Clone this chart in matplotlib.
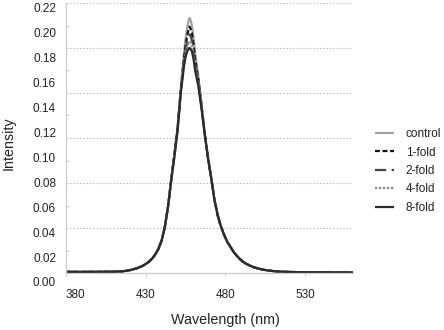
import numpy as np
import matplotlib.pyplot as plt
from matplotlib.ticker import MultipleLocator

plt.rcParams['font.family'] = ['Liberation Sans', 'DejaVu Sans']

# ------------------------------------------------------------
# Emission spectra (intensity vs wavelength)
# the tails of all five spectra coincide, only the peak differs
# ------------------------------------------------------------
wl_left = [380, 395, 405, 410, 415, 418, 420, 422, 425, 428, 430, 432, 434, 436, 438,
           440, 442, 444]
wl_peak = [446, 448, 450, 452, 454, 455, 456, 457, 457.5, 458, 459, 460, 461, 463, 465,
           467, 469]
wl_right = [471, 473, 475, 477, 479, 481, 483, 485, 487, 489, 491, 493, 495, 498, 501,
            505, 510, 515, 520, 530, 545, 560]

tail_left = [0.0010, 0.0010, 0.0011, 0.0012, 0.0015, 0.0020, 0.0025, 0.0032, 0.0045,
             0.0063, 0.0080, 0.0100, 0.0128, 0.0165, 0.0215, 0.0290, 0.0410, 0.0590]
tail_right = [0.0850, 0.0660, 0.0520, 0.0420, 0.0345, 0.0280, 0.0235, 0.0190, 0.0155,
              0.0125, 0.0100, 0.0082, 0.0068, 0.0050, 0.0038, 0.0026, 0.0017, 0.0012,
              0.0009, 0.0007, 0.0006, 0.0005]

peak_control = [0.0830, 0.1060, 0.1300, 0.1650, 0.1950, 0.2080, 0.2180, 0.2250, 0.2267,
                0.2255, 0.2200, 0.2090, 0.1950, 0.1750, 0.1500, 0.1250, 0.1040]
peak_1fold = [0.0830, 0.1055, 0.1290, 0.1630, 0.1910, 0.2025, 0.2110, 0.2170, 0.2190,
              0.2175, 0.2130, 0.2030, 0.1900, 0.1720, 0.1490, 0.1245, 0.1035]
peak_2fold = [0.0828, 0.1050, 0.1280, 0.1620, 0.1880, 0.1985, 0.2050, 0.2105, 0.2120,
              0.2110, 0.2070, 0.1980, 0.1860, 0.1700, 0.1480, 0.1240, 0.1030]
peak_4fold = [0.0826, 0.1040, 0.1270, 0.1610, 0.1860, 0.1950, 0.2010, 0.2050, 0.2060,
              0.2055, 0.2020, 0.1940, 0.1830, 0.1680, 0.1470, 0.1235, 0.1025]
peak_8fold = [0.0825, 0.1035, 0.1270, 0.1600, 0.1840, 0.1920, 0.1970, 0.1995, 0.2000,
              0.1995, 0.1970, 0.1900, 0.1800, 0.1660, 0.1460, 0.1230, 0.1020]

wavelength = wl_left + wl_peak + wl_right

y_tick_labels = ["0.00", "0.02", "0.04", "0.06", "0.08", "0.10",
                 "0.12", "0.14", "0.16", "0.18", "0.20", "0.22"]
x_ticks = [380, 430, 480, 530]

# (label, peak values, color, linestyle)
series = [
    ("control", peak_control, "#a3a3a3", "-"),
    ("1-fold",  peak_1fold,   "#111111", (0, (2.2, 1.2))),
    ("2-fold",  peak_2fold,   "#444444", (0, (5, 2.5))),
    ("4-fold",  peak_4fold,   "#8a8a8a", (0, (1, 0.8))),
    ("8-fold",  peak_8fold,   "#2b2b2b", "-"),
]

# ------------------------------------------------------------
# Figure
# ------------------------------------------------------------
W, H = 444, 330
fig = plt.figure(figsize=(W / 100, H / 100), dpi=100)
fig.patch.set_facecolor("white")

ax_l, ax_r, ax_t, ax_b = 66, 353, 3, 273
ax = fig.add_axes([ax_l / W, 1 - ax_b / H, (ax_r - ax_l) / W, (ax_b - ax_t) / H])

for label, peak, color, ls in series:
    ax.plot(wavelength, tail_left + peak + tail_right, color=color, linestyle=ls,
            linewidth=1.6, label=label, solid_capstyle="butt", solid_joinstyle="round")

ax.set_xlim(380, 560)
ax.set_ylim(0, 0.24)

# grid every 0.04, small inward marks in between
ax.yaxis.set_major_locator(MultipleLocator(0.04))
ax.yaxis.set_minor_locator(MultipleLocator(0.02))
ax.grid(True, axis="y", which="major", linestyle=(0, (1.5, 1.5)), color="#c4c4c4", linewidth=0.8)
ax.tick_params(axis="y", which="major", length=0, labelleft=False)
ax.tick_params(axis="y", which="minor", direction="in", length=2.2, color="#cfcfcf", width=0.8)

ax.set_xticks(x_ticks)
ax.set_xticklabels([str(t) for t in x_ticks])
ax.tick_params(axis="x", direction="out", length=2.2, color="#cfcfcf", width=0.8,
               labelsize=8.5, labelcolor="#222222", pad=9)
ax.get_xticklabels()[0].set_horizontalalignment("left")

for s in ["top", "right"]:
    ax.spines[s].set_visible(False)
for s in ["left", "bottom"]:
    ax.spines[s].set_color("#cccccc")
    ax.spines[s].set_linewidth(0.9)

ax.set_xlabel("Wavelength (nm)", fontsize=10.3, color="#222222")
ax.xaxis.set_label_coords(0.557, -0.174)
ax.xaxis.label.set_va("center")
ax.set_ylabel("Intensity", fontsize=10.3, color="#222222")
ax.yaxis.set_label_coords(-0.199, 0.481)
ax.yaxis.label.set_va("center")

# y tick labels sit on their own scale beside the axis
lab_t, lab_b = 8, 282
lab = fig.add_axes([ax_l / W, 1 - lab_b / H, (ax_r - ax_l) / W, (lab_b - lab_t) / H])
lab.set_ylim(0, 0.22)
lab.set_yticks(np.arange(len(y_tick_labels)) * 0.02)
lab.set_yticklabels(y_tick_labels)
lab.tick_params(axis="y", length=0, pad=7.2, labelsize=8.5, labelcolor="#222222")
lab.set_xticks([])
lab.set_frame_on(False)
lab.patch.set_visible(False)

leg = ax.legend(loc="center left", bbox_to_anchor=(375 / W, 1 - 171 / H),
                bbox_transform=fig.transFigure, frameon=False, fontsize=8.5,
                handlelength=1.6, handletextpad=1.0, labelspacing=0.55,
                borderpad=0, borderaxespad=0)
for t in leg.get_texts():
    t.set_color("#222222")

plt.savefig("out.png", dpi=100, facecolor=fig.get_facecolor())
